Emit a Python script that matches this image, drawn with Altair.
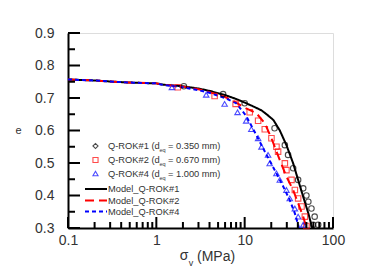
import altair as alt
import pandas as pd

# ---- data ----
series_names = ["Model_Q-ROK#1", "Model_Q-ROK#2", "Model_Q-ROK#4"]
m1_sig = [0.1, 0.2, 0.33, 0.56, 1.0, 1.2, 2.0, 3.0, 4.0, 6.0, 8.0, 10.4, 13.0, 15.5, 17.7, 21.2, 25.0, 29.7, 35.4, 40.3, 46.0, 52.6, 57.0, 60.0]
m1_e = [0.757, 0.754, 0.750, 0.747, 0.745, 0.741, 0.736, 0.729, 0.722, 0.709, 0.697, 0.684, 0.672, 0.662, 0.650, 0.632, 0.600, 0.555, 0.499, 0.448, 0.396, 0.345, 0.309, 0.290]
m2_sig = [0.1, 0.2, 0.33, 0.56, 1.0, 1.2, 2.0, 3.0, 4.0, 6.0, 8.0, 10.4, 13.6, 16.9, 20.1, 25.0, 29.7, 35.4, 40.3, 46.0, 49.0, 51.0]
m2_e = [0.757, 0.754, 0.750, 0.747, 0.745, 0.741, 0.735, 0.727, 0.718, 0.703, 0.686, 0.668, 0.653, 0.622, 0.576, 0.509, 0.458, 0.417, 0.376, 0.335, 0.309, 0.290]
m4_sig = [0.1, 0.2, 0.33, 0.56, 1.0, 1.2, 2.0, 3.0, 4.0, 6.0, 8.0, 10.4, 13.6, 17.7, 22.9, 27.4, 32.4, 37.0, 40.3, 42.0]
m4_e = [0.757, 0.754, 0.750, 0.747, 0.745, 0.740, 0.733, 0.724, 0.716, 0.700, 0.684, 0.645, 0.585, 0.525, 0.468, 0.427, 0.386, 0.345, 0.310, 0.290]

p1_sig = [2.05, 5.7, 10.0, 21.8, 28.5, 31.0, 35.4, 40.3, 46.0, 50.0, 52.6, 57.0, 62.0, 59.5, 68.0]
p1_e = [0.736, 0.712, 0.684, 0.607, 0.555, 0.525, 0.484, 0.448, 0.422, 0.400, 0.381, 0.360, 0.335, 0.310, 0.310]
p2_sig = [1.75, 4.57, 7.9, 11.4, 14.2, 16.9, 20.1, 22.9, 23.9, 28.5, 29.7, 33.9, 37.0, 40.3, 44.0, 48.0, 50.0]
p2_e = [0.733, 0.706, 0.682, 0.656, 0.630, 0.604, 0.576, 0.550, 0.535, 0.499, 0.478, 0.448, 0.417, 0.391, 0.366, 0.335, 0.306]
p4_sig = [1.5, 3.67, 5.93, 8.3, 10.4, 11.9, 14.2, 15.5, 18.4, 19.2, 22.9, 25.0, 29.7, 32.4, 37.0, 40.3, 46.0]
p4_e = [0.733, 0.710, 0.682, 0.656, 0.630, 0.604, 0.576, 0.550, 0.525, 0.499, 0.468, 0.448, 0.417, 0.391, 0.360, 0.335, 0.310]

x_labels = [0.1, 1, 10, 100]
x_minor = [0.2, 0.3, 0.4, 0.5, 0.6, 0.7, 0.8, 0.9, 2, 3, 4, 5, 6, 7, 8, 9, 20, 30, 40, 50, 60, 70, 80, 90]
y_major = [0.3, 0.4, 0.5, 0.6, 0.7, 0.8, 0.9]
y_minor = [0.35, 0.45, 0.55, 0.65, 0.75, 0.85]

legend_pts = ["Q-ROK#1 (d", "Q-ROK#2 (d", "Q-ROK#4 (d"]
legend_pts_tail = ["= 0.350 mm)", "= 0.670 mm)", "= 1.000 mm)"]

# ---- build tables ----
rows = []
for name, s, e in zip(series_names, [m1_sig, m2_sig, m4_sig], [m1_e, m2_e, m4_e]):
    for a, b in zip(s, e):
        rows.append({"sigma": a, "e": b, "series": name})
model_df = pd.DataFrame(rows)

W, H = 265, 195
FONT = "Liberation Sans"
colors = ["black", "red", "blue"]

xs = alt.Scale(type="log", domain=[0.1, 100])
ys = alt.Scale(domain=[0.3, 0.9])

xaxis = alt.Axis(values=x_labels, format="~g", ticks=False, grid=False, domainWidth=2,
                 domainColor="black", labelFontSize=14, labelFont=FONT, labelColor="#333",
                 labelPadding=5, title=None, labelFlush=False, labelOverlap=False)
yaxis = alt.Axis(values=y_major, format=".1f", ticks=False, grid=False, domainWidth=2,
                 domainColor="black", labelFontSize=14, labelFont=FONT, labelColor="#333",
                 labelPadding=14, labelOverlap=False, labelFlush=False,
                 title="e", titleAngle=0, titleX=-50, titleY=97,
                 titleFont=FONT, titleFontSize=11, titleFontWeight="normal",
                 titleColor="#333", titleAlign="center", titleBaseline="middle")

def X(f):
    return alt.X(f, scale=xs, axis=xaxis)

def Y(f):
    return alt.Y(f, scale=ys, axis=yaxis)

lines = alt.Chart(model_df).mark_line(strokeWidth=2, clip=True).encode(
    x=X("sigma:Q"),
    y=Y("e:Q"),
    color=alt.Color("series:N", scale=alt.Scale(domain=series_names, range=colors), legend=None),
    strokeDash=alt.StrokeDash("series:N", scale=alt.Scale(domain=series_names, range=[[1, 0], [9, 5], [4, 3]]), legend=None),
)

def pts(s, e, shape, color):
    df = pd.DataFrame({"sigma": s, "e": e})
    return alt.Chart(df).mark_point(shape=shape, size=30, strokeWidth=1.1, color=color, filled=False).encode(
        x=X("sigma:Q"), y=Y("e:Q"))

pts1 = pts(p1_sig, p1_e, "circle", "black")
pts2 = pts(p2_sig, p2_e, "square", "red")
pts4 = pts(p4_sig, p4_e, "triangle-up", "blue")

# inward ticks
xmaj = alt.Chart(pd.DataFrame({"sigma": x_labels})).mark_rule(color="black", strokeWidth=2).encode(
    x=X("sigma:Q"), y=alt.value(H), y2=alt.value(H - 11))
xmin = alt.Chart(pd.DataFrame({"sigma": x_minor})).mark_rule(color="black", strokeWidth=2).encode(
    x=X("sigma:Q"), y=alt.value(H), y2=alt.value(H - 6))
ymaj = alt.Chart(pd.DataFrame({"e": y_major})).mark_rule(color="black", strokeWidth=2).encode(
    y=Y("e:Q"), x=alt.value(0), x2=alt.value(12))
ymin = alt.Chart(pd.DataFrame({"e": y_minor})).mark_rule(color="black", strokeWidth=2).encode(
    y=Y("e:Q"), x=alt.value(0), x2=alt.value(7))

# manual legend
layers = []
leg_rows = [113, 127, 140.5]
shapes = ["diamond", "square", "triangle-up"]
for i in range(3):
    d = pd.DataFrame({"t": [legend_pts[i]]})
    layers.append(alt.Chart(d).mark_point(shape=shapes[i], size=26, strokeWidth=1.1, color=colors[i], filled=False).encode(
        x=alt.value(27.5), y=alt.value(leg_rows[i])))
    layers.append(alt.Chart(d).mark_text(align="left", baseline="middle", font=FONT, fontSize=9.3, color="#333").encode(
        x=alt.value(40), y=alt.value(leg_rows[i]), text="t:N"))
    layers.append(alt.Chart(pd.DataFrame({"t": ["eq"]})).mark_text(align="left", baseline="middle", font=FONT, fontSize=5.5, color="#333").encode(
        x=alt.value(91.5), y=alt.value(leg_rows[i] + 4), text="t:N"))
    layers.append(alt.Chart(pd.DataFrame({"t": [legend_pts_tail[i]]})).mark_text(align="left", baseline="middle", font=FONT, fontSize=9.3, color="#333").encode(
        x=alt.value(100), y=alt.value(leg_rows[i]), text="t:N"))

line_rows = [156, 167.5, 178.5]
dashes = [[1, 0], [9, 5], [4, 3]]
for i in range(3):
    d = pd.DataFrame({"t": [series_names[i]]})
    layers.append(alt.Chart(d).mark_rule(color=colors[i], strokeWidth=2, strokeDash=dashes[i]).encode(
        x=alt.value(17), x2=alt.value(39), y=alt.value(line_rows[i])))
    layers.append(alt.Chart(d).mark_text(align="left", baseline="middle", font=FONT, fontSize=9.3, color="#333").encode(
        x=alt.value(40), y=alt.value(line_rows[i]), text="t:N"))

# x title with subscript
xt = [
    alt.Chart(pd.DataFrame({"t": ["σ"]})).mark_text(align="center", baseline="middle", font=FONT, fontSize=14, color="#333").encode(
        x=alt.value(116), y=alt.value(223), text="t:N"),
    alt.Chart(pd.DataFrame({"t": ["v"]})).mark_text(align="center", baseline="middle", font=FONT, fontSize=9, color="#333").encode(
        x=alt.value(123), y=alt.value(230), text="t:N"),
    alt.Chart(pd.DataFrame({"t": ["(MPa)"]})).mark_text(align="left", baseline="middle", font=FONT, fontSize=14, color="#333").encode(
        x=alt.value(129), y=alt.value(224), text="t:N"),
]

chart = alt.layer(lines, pts1, pts2, pts4, xmaj, xmin, ymaj, ymin, *layers, *xt).properties(
    width=W, height=H, autosize=alt.AutoSizeParams(type="none"),
    padding={"left": 60, "top": 25, "right": 40, "bottom": 40},
).configure_view(stroke=None).configure(background="white")

chart.save("out.html", embed_options={"renderer": "svg", "actions": False})
